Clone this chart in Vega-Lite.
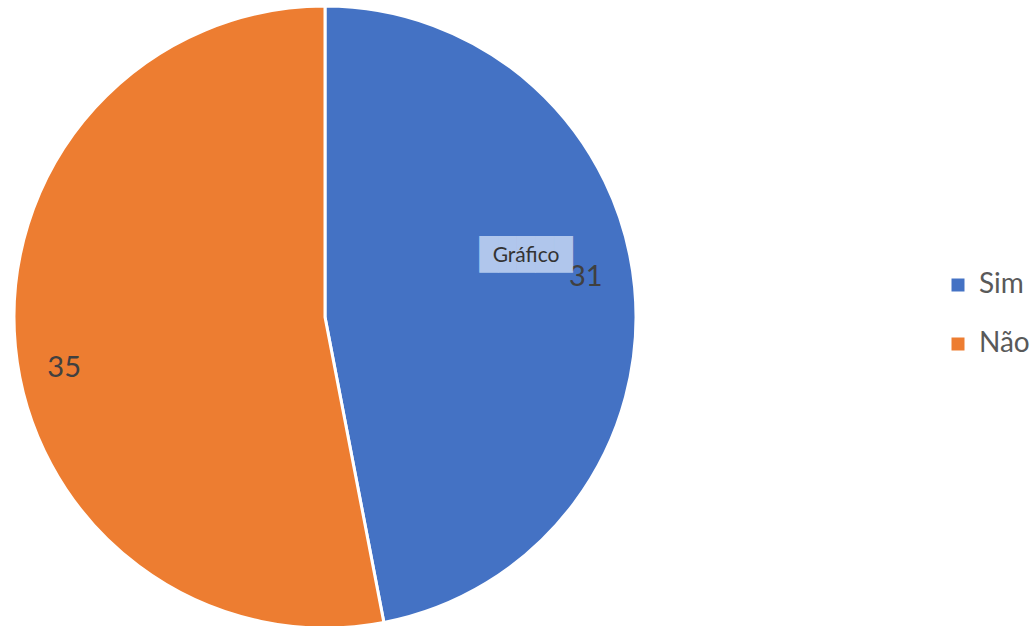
{
  "$schema": "https://vega.github.io/schema/vega-lite/v6.json",
  "width": 650,
  "height": 628,
  "padding": 0,
  "background": "white",
  "config": {"view": {"stroke": null}, "font": "Lato"},
  "data": {"values": [
    {"resposta": "Sim", "valor": 31, "ordem": 1, "nota": "Gráfico", "caixa": "█████"},
    {"resposta": "Não", "valor": 35, "ordem": 2, "nota": "", "caixa": ""}
  ]},
  "encoding": {
    "theta": {"field": "valor", "type": "quantitative", "stack": true},
    "order": {"field": "ordem", "type": "quantitative"},
    "color": {
      "field": "resposta", "type": "nominal",
      "scale": {"domain": ["Sim", "Não"], "range": ["#4472C4", "#ED7D31"]},
      "legend": {
        "title": null, "orient": "none", "legendX": 944, "legendY": 268,
        "symbolType": "square", "symbolSize": 169, "symbolStrokeWidth": 0,
        "labelFontSize": 28, "labelColor": "#595959", "labelFont": "Lato",
        "rowPadding": 31, "labelOffset": 7
      }
    }
  },
  "layer": [
    {"mark": {"type": "arc", "outerRadius": 311, "stroke": "white", "strokeWidth": 3}},
    {"mark": {"type": "text", "radius": 262, "dy": -15, "fontSize": 29, "fill": "#404040", "font": "Lato"},
     "encoding": {"text": {"condition": {"test": "datum.resposta === 'Sim'", "field": "valor", "type": "quantitative"}, "value": ""}}},
    {"mark": {"type": "text", "radius": 262, "dy": 26, "fontSize": 29, "fill": "#404040", "font": "Lato"},
     "encoding": {"text": {"condition": {"test": "datum.resposta === 'Não'", "field": "valor", "type": "quantitative"}, "value": ""}}},
    {"mark": {"type": "text", "radius": 212, "dx": -10, "dy": -41, "fontSize": 31, "fill": "#B4C9EE", "font": "DejaVu Sans Mono", "baseline": "middle", "opacity": 0.97},
     "encoding": {"text": {"field": "caixa", "type": "nominal"}}},
    {"mark": {"type": "text", "radius": 212, "dx": -10, "dy": -41, "fontSize": 21, "fill": "#333333", "font": "Lato", "baseline": "middle"},
     "encoding": {"text": {"field": "nota", "type": "nominal"}}}
  ]
}
